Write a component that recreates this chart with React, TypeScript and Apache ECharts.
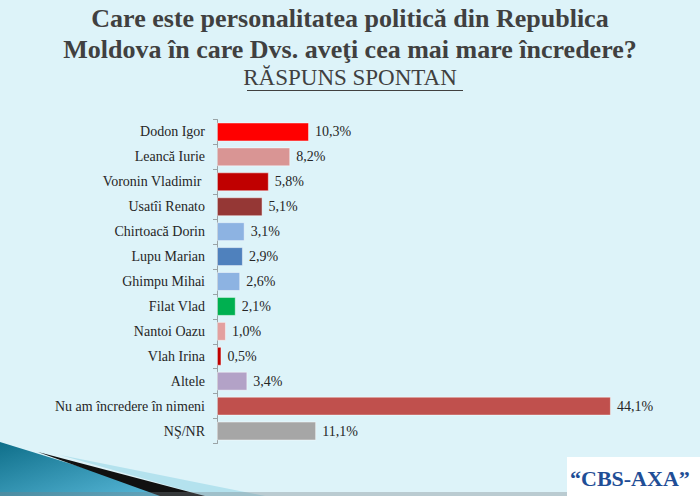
import React, { useEffect, useRef } from "react";
import * as echarts from "echarts";

const categories = [
  "Dodon Igor",
  "Leancă Iurie",
  "Voronin Vladimir ",
  "Usatîi Renato",
  "Chirtoacă Dorin",
  "Lupu Marian",
  "Ghimpu Mihai",
  "Filat Vlad",
  "Nantoi Oazu",
  "Vlah Irina",
  "Altele",
  "Nu am încredere în nimeni",
  "NŞ/NR",
];
const values = [10.3, 8.2, 5.8, 5.1, 3.1, 2.9, 2.6, 2.1, 1.0, 0.5, 3.4, 44.1, 11.1];
const colors = [
  "#ff0000",
  "#d99594",
  "#c00000",
  "#953735",
  "#8db3e2",
  "#4f81bd",
  "#8db3e2",
  "#00b050",
  "#e3a09f",
  "#c00000",
  "#b3a2c7",
  "#c0504d",
  "#a6a6a6",
];
const titleLines = [
  "Care este personalitatea politică din Republica",
  "Moldova în care Dvs. aveţi cea mai mare încredere?",
];
const subtitle = "RĂSPUNS SPONTAN";
const logoText = "\u201CCBS-AXA\u201D";

export default function App() {
  const ref = useRef<HTMLDivElement>(null);
  useEffect(() => {
    if (!ref.current) return;
    const chart = echarts.init(ref.current, null, { renderer: "svg" });
    const serif = "'Liberation Serif', 'DejaVu Serif', serif";
    chart.setOption({
      animation: false,
      backgroundColor: "#ddf3f9",
      grid: { left: 217, top: 119.5, width: 446.6, height: 324 },
      xAxis: {
        type: "value",
        min: 0,
        max: 50,
        show: false,
      },
      yAxis: {
        type: "category",
        inverse: true,
        data: categories,
        axisLine: { show: true, lineStyle: { color: "#9aa3a6", width: 1 } },
        axisTick: { show: true, length: 4, lineStyle: { color: "#9aa3a6" } },
        axisLabel: {
          margin: 12,
          color: "#262626",
          fontFamily: serif,
          fontSize: 14,
        },
      },
      series: [
        {
          type: "bar",
          barCategoryGap: "24%",
          data: values.map((v, i) => ({
            value: v,
            itemStyle: { color: colors[i] },
          })),
          itemStyle: { borderColor: "rgba(255,255,255,0.45)", borderWidth: 1 },
          label: {
            show: true,
            position: "right",
            distance: 6,
            color: "#262626",
            fontFamily: serif,
            fontSize: 14,
            formatter: (p: any) => p.value.toFixed(1).replace(".", ",") + "%",
          },
        },
      ],
      graphic: [
        {
          type: "text",
          left: "center",
          top: 5,
          style: {
            text: titleLines[0],
            font: `bold 26px ${serif}`,
            fill: "#404040",
          },
        },
        {
          type: "text",
          left: "center",
          top: 36,
          style: {
            text: titleLines[1],
            font: `bold 26px ${serif}`,
            fill: "#404040",
          },
        },
        {
          type: "text",
          left: "center",
          top: 66,
          style: {
            text: subtitle,
            font: `23px ${serif}`,
            fill: "#404040",
          },
        },
        {
          type: "line",
          shape: { x1: 247, y1: 90.5, x2: 463, y2: 90.5 },
          style: { stroke: "#404040", lineWidth: 1.2 },
        },
        {
          type: "polygon",
          shape: { points: [[0, 442], [175, 496], [0, 496]] },
          style: {
            fill: new echarts.graphic.LinearGradient(0, 0, 1, 1, [
              { offset: 0, color: "#0f6f8a" },
              { offset: 1, color: "#5bbbdc" },
            ]),
          },
        },
        {
          type: "polygon",
          shape: { points: [[60, 455], [265, 496], [205, 496]] },
          style: { fill: "#b4e2ee" },
        },
        {
          type: "polygon",
          shape: { points: [[38, 452], [205, 496], [160, 496]] },
          style: { fill: "#111111" },
        },
        {
          type: "rect",
          shape: { x: 0, y: 492, width: 700, height: 4 },
          style: { fill: "rgba(120,130,135,0.35)" },
        },
        {
          type: "rect",
          shape: { x: 567, y: 457, width: 133, height: 39 },
          style: { fill: "#ffffff" },
        },
        {
          type: "text",
          x: 570,
          y: 478,
          style: {
            text: logoText,
            font: `bold 22px ${serif}`,
            fill: "#1f4e96",
            verticalAlign: "middle",
          },
        },
      ],
    });
    return () => chart.dispose();
  }, []);
  return (
    <div
      ref={ref}
      style={{ position: "absolute", left: 0, top: 0, width: 700, height: 496 }}
    />
  );
}
